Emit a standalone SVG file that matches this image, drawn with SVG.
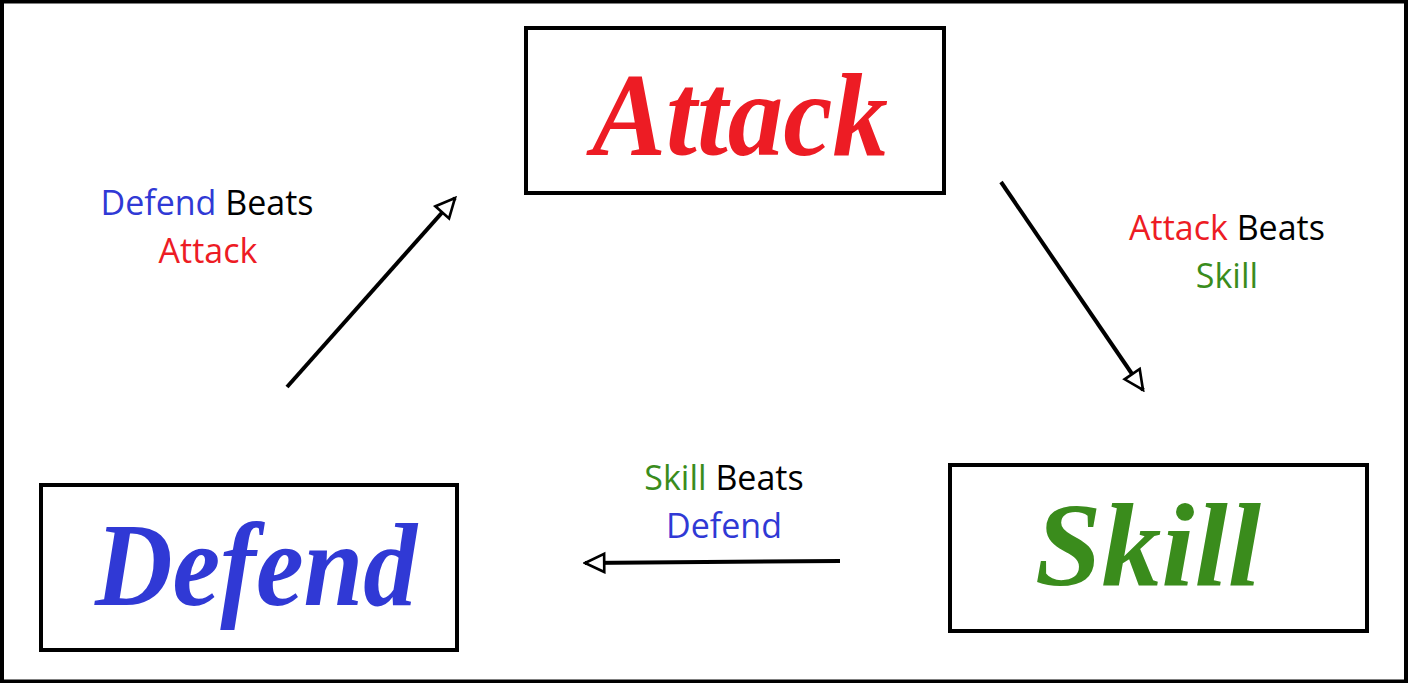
<svg xmlns="http://www.w3.org/2000/svg" width="1408" height="683" viewBox="0 0 1408 683">
<defs>
<style>
.box{fill:#fff;stroke:#000;stroke-width:4}
.big{font-family:"Liberation Serif","DejaVu Serif",serif;font-style:italic;font-weight:bold;font-size:118px;text-anchor:middle}
.lbl{font-family:"Open Sans","Noto Sans",sans-serif;font-size:34px;text-anchor:middle}
.red{fill:#ED1C24}.blue{fill:#3039D5}.green{fill:#3A8C1C}.blk{fill:#000}
.con{stroke:#000;stroke-width:4;fill:none;marker-end:url(#tri)}
</style>
<marker id="tri" viewBox="0 0 10 10" refX="9" refY="5" markerWidth="6" markerHeight="6" orient="auto" markerUnits="strokeWidth">
<path d="M1,1.2 L9,5 L1,8.8 Z" fill="#fff" stroke="#000" stroke-width="1.1" stroke-linejoin="miter"/>
</marker>
</defs>
<rect x="2" y="1.5" width="1404" height="680" fill="#fff" stroke="#000" stroke-width="4"/>
<g id="attack">
<rect class="box" x="526" y="28" width="418" height="165"/>
<text class="big red" x="740" y="155" textLength="296" lengthAdjust="spacingAndGlyphs">Attack</text>
</g>
<g id="defend">
<rect class="box" x="41" y="485" width="416" height="165"/>
<text class="big blue" x="256" y="605" textLength="322" lengthAdjust="spacingAndGlyphs">Defend</text>
</g>
<g id="skill">
<rect class="box" x="950" y="465" width="417" height="166"/>
<text class="big green" x="1148" y="585" textLength="226" lengthAdjust="spacingAndGlyphs">Skill</text>
</g>
<g id="connectors">
<line class="con" x1="287" y1="387" x2="455" y2="198"/>
<line class="con" x1="1001" y1="182" x2="1143" y2="390"/>
<line class="con" x1="840" y1="561" x2="585" y2="563"/>
</g>
<g id="labels">
<text class="lbl" x="207" y="215"><tspan class="blue">Defend</tspan><tspan class="blk"> Beats</tspan></text>
<text class="lbl red" x="208" y="263">Attack</text>
<text class="lbl" x="1227" y="240"><tspan class="red">Attack</tspan><tspan class="blk"> Beats</tspan></text>
<text class="lbl green" x="1227" y="288">Skill</text>
<text class="lbl" x="724" y="490"><tspan class="green">Skill</tspan><tspan class="blk"> Beats</tspan></text>
<text class="lbl blue" x="724" y="538">Defend</text>
</g>
</svg>
